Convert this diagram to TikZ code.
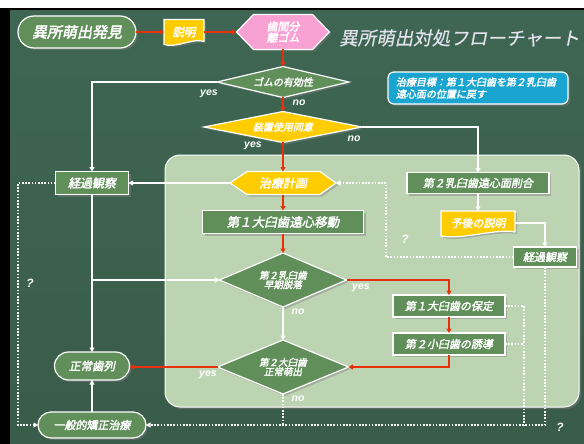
\documentclass[tikz,border=0pt]{standalone}
\usepackage{fontspec}
\setmainfont{Liberation Sans}
\newfontfamily\jp[FakeSlant=0.2,FakeBold=2.5]{Noto Sans CJK JP}
\newfontfamily\jpt[FakeSlant=0.2,FakeBold=0.4]{Noto Sans CJK JP}
\usetikzlibrary{arrows.meta,shapes.geometric,shadows,backgrounds}
\definecolor{ngreen}{RGB}{96,143,90}
\definecolor{yel}{RGB}{255,204,0}
\definecolor{pinkc}{RGB}{248,162,212}
\definecolor{bluec}{RGB}{26,165,208}
\definecolor{panelc}{RGB}{189,212,178}
\definecolor{bgtop}{RGB}{62,102,83}
\definecolor{bgmid}{RGB}{104,160,133}
\definecolor{bgbot}{RGB}{58,92,74}
\definecolor{redc}{RGB}{232,48,10}
\definecolor{titlec}{RGB}{226,226,236}
\pgfdeclarelayer{bg}
\pgfsetlayers{bg,background,main}
\begin{document}
\begin{tikzpicture}[x=1pt,y=-1pt,
  shd/.style={drop shadow={shadow xshift=2pt,shadow yshift=-2pt,opacity=0.45}},
  base/.style={text=white,inner sep=1pt,outer sep=0pt,align=center},
  fs/.style={font=\jp\fontsize{#1}{\dimexpr #1pt*12/10\relax}\selectfont},
  box/.style={base,rectangle,draw=white,line width=1.2pt,fill=ngreen,shd},
  pill/.style={box,rounded corners=#1},
  dia/.style={base,diamond,draw=white,line width=1.2pt,fill=ngreen,shd,inner sep=0pt},
  shapefill/.style={draw=white,line width=1.2pt,shd},
  lab/.style={text=white,font=\bfseries\itshape\fontsize{10.5}{10.5}\selectfont,inner sep=0pt},
  qlab/.style={lab,font=\bfseries\itshape\fontsize{12}{12}\selectfont},
  tip/.style={-{Triangle[width=5pt,length=4.5pt]}},
  redl/.style={draw=redc,line width=1.6pt,tip},
  wht/.style={draw=white,line width=1.2pt,tip},
  dotl/.style={draw=white,line width=1.6pt,dash pattern=on 1.6pt off 1.6pt},
  dota/.style={dotl,tip}
]
\useasboundingbox (0,0) rectangle (584,444);
\begin{pgfonlayer}{bg}
  \fill[white] (0,0) rectangle (584,444);
  \fill[black] (0,8) rectangle (584,444);
  \shade[top color=bgtop,middle color=bgmid,bottom color=bgbot] (10,11) rectangle (584,444);
  \path[fill=panelc,draw=white,line width=1pt,rounded corners=15pt,shd] (165,155) rectangle (579,407);
\end{pgfonlayer}

% nodes
\node[pill=16pt,fs=15,minimum width=118pt,minimum height=32pt] (find) at (77,32) {異所萌出発見};
\node[base,fs=11.5,minimum width=40pt,minimum height=25pt] (exp) at (184,32) {説明};
\node[base,fs=11,minimum width=93pt,minimum height=35pt] (gum) at (283,32) {歯間分\\[-2pt]離ゴム};
\node[anchor=west,text=titlec,font=\jpt\fontsize{18.5}{18.5}\selectfont,inner sep=0pt] (title) at (339,38) {異所萌出対処フローチャート};
\node[dia,fs=10,aspect=4.2,minimum width=132pt,minimum height=31pt] (eff) at (283,82) {ゴムの有効性};
\node[dia,fill=yel,fs=10,aspect=5,minimum width=158pt,minimum height=31pt] (agr) at (283,127) {装置使用同意};
\node[base,fill=bluec,draw=white,line width=1.2pt,rounded corners=6pt,shd,fs=10,align=left,
      text width=164pt,minimum width=180pt,minimum height=32pt,inner sep=0pt] (goal) at (478,88)
      {治療目標：第１大臼歯を第２乳臼歯\\遠心面の位置に戻す};
\node[box,fs=12,minimum width=73pt,minimum height=23pt] (obsL) at (92,183) {経過観察};
\node[base,fs=12,minimum width=106pt,minimum height=23pt] (plan) at (283,183) {治療計画};
\node[box,fs=11,minimum width=142pt,minimum height=21pt] (trim) at (478,183) {第２乳臼歯遠心面削合};
\node[base,fs=11,minimum width=74pt,minimum height=24pt] (prog) at (478,223) {予後の説明};
\node[box,fs=11,minimum width=63pt,minimum height=20pt] (obsR) at (545,257) {経過観察};
\node[box,fs=12.5,minimum width=161pt,minimum height=23pt] (dist) at (283,222) {第１大臼歯遠心移動};
\node[dia,fs=9.5,aspect=2.35,minimum width=127pt,minimum height=54pt] (early) at (283,280) {第２乳臼歯\\[-2pt]早期脱落};
\node[box,fs=11,minimum width=112pt,minimum height=22pt] (ret) at (449,306) {第１大臼歯の保定};
\node[box,fs=11,minimum width=112pt,minimum height=22pt] (guide) at (449,344) {第２小臼歯の誘導};
\node[dia,fs=9.5,aspect=2.4,minimum width=131pt,minimum height=54pt] (norm2) at (283,367) {第２大臼歯\\[-2pt]正常萌出};
\node[pill=14pt,fs=11.5,minimum width=75pt,minimum height=28pt] (normal) at (92,366) {正常歯列};
\node[pill=13pt,fs=11,minimum width=108pt,minimum height=26pt] (gen) at (92,425) {一般的矯正治療};

% manual shapes behind text
\begin{scope}[on background layer]
  \path[fill=yel,shapefill] (exp.north west) -- (exp.north east) -- ([yshift=3pt]exp.south east)
     .. controls +(-10,-4) and +(12,4) .. (exp.south west) -- cycle;
  \path[fill=pinkc,shapefill] (gum.west) -- ([xshift=17pt]gum.north west) -- ([xshift=-17pt]gum.north east)
     -- (gum.east) -- ([xshift=-17pt]gum.south east) -- ([xshift=17pt]gum.south west) -- cycle;
  \path[fill=yel,shapefill] (plan.west) -- ([xshift=17pt]plan.north west) -- ([xshift=-16pt]plan.north east)
     -- (plan.east) -- ([xshift=-16pt]plan.south east) -- ([xshift=17pt]plan.south west) -- cycle;
  \path[fill=yel,shapefill] (prog.north west) -- (prog.north east) -- ([yshift=3pt]prog.south east)
     .. controls +(-18,-4) and +(22,4) .. ([yshift=-1pt]prog.south west) -- cycle;
\end{scope}

% helper coordinates
\coordinate (lx) at (18,0);
\coordinate (qx) at (386,0);
\coordinate (rx) at (524,0);

% red flow
\draw[redl] (find) -- (exp);
\draw[redl] (exp.east) -- (gum.west);
\draw[redl] (gum) -- (eff);
\draw[redl] (eff) -- (agr);
\draw[redl] (agr) -- (plan);
\draw[redl] (plan) -- (dist);
\draw[redl] (dist) -- (early);
\draw[redl] (early.east) -| (ret.north);
\draw[redl] (ret) -- (guide);
\draw[redl] (guide.south) |- (norm2.east);
\draw[redl] (norm2.west) -- (normal.east |- norm2.west);

% white flow
\draw[wht] (eff.west) -| (obsL.north);
\draw[wht] (agr.east) -| (trim.north);
\draw[wht] (plan.west) -- (obsL.east);
\draw[wht] (obsL.south) -- (normal.north);
\draw[wht] (obsL.south |- early.west) -- (early.west);
\draw[wht] (early.south) -- (norm2.north);
\draw[wht] (trim) -- (prog);
\draw[wht] (prog.east) -| (obsR.north);
\draw[wht] (gen.north) -- (normal.south);

% dotted
\draw[dota] (obsL.west) -- (lx |- obsL.west) |- (gen.west);
\draw[dota] (obsR.west) -- (qx |- obsR.west) |- (plan.east);
\draw[dota] (obsR.south) |- (gen.east);
\draw[dotl] (norm2.south) -- (norm2.south |- gen.east);
\draw[dotl] (ret.east) -- (rx |- ret.east) -- (rx |- gen.east);
\draw[dotl] (guide.east) -- (rx |- guide.east);

% labels
\node[lab] (l1) at (209,94) {yes};
\node[lab] (l2) at (299,103) {no};
\node[lab] (l3) at (253,146) {yes};
\node[lab] (l4) at (354,139) {no};
\node[lab] (l5) at (361,288) {yes};
\node[lab] (l6) at (298,312) {no};
\node[lab] (l7) at (208,375) {yes};
\node[lab] (l8) at (298,399) {no};
\node[qlab] (q1) at (30,283) {?};
\node[qlab] (q2) at (405,239) {?};
\node[qlab] (q3) at (560,427) {?};
\end{tikzpicture}
\end{document}
